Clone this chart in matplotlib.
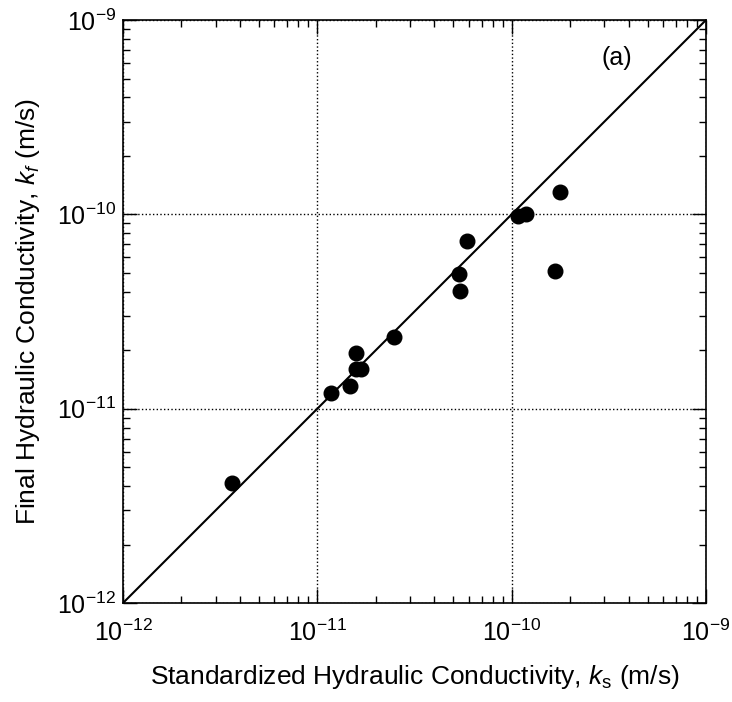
import numpy as np
import matplotlib.pyplot as plt
from matplotlib.ticker import LogLocator, NullFormatter

plt.rcParams['font.family'] = ['Liberation Sans', 'DejaVu Sans']
plt.rcParams['mathtext.fontset'] = 'custom'
plt.rcParams['mathtext.rm'] = 'Liberation Sans'
plt.rcParams['mathtext.it'] = 'Liberation Sans:italic'
plt.rcParams['mathtext.default'] = 'regular'
plt.rcParams['axes.unicode_minus'] = False

# standardized vs final hydraulic conductivity (m/s)
k_s = [3.62e-12, 1.18e-11, 1.48e-11, 1.59e-11, 1.67e-11, 1.58e-11, 2.47e-11,
       5.33e-11, 5.43e-11, 5.90e-11, 1.08e-10, 1.19e-10, 1.78e-10, 1.68e-10]
k_f = [4.17e-12, 1.21e-11, 1.31e-11, 1.60e-11, 1.60e-11, 1.94e-11, 2.33e-11,
       4.91e-11, 4.04e-11, 7.33e-11, 9.8e-11, 1.00e-10, 1.30e-10, 5.11e-11]

lim = [1e-12, 1e-9]

fig = plt.figure(figsize=(7.32, 7.02), dpi=100)
ax = fig.add_axes([0.168, 0.141, 0.7965, 0.8305])

ax.plot(lim, lim, color='black', linewidth=1.5, zorder=2)
ax.plot(k_s, k_f, 'o', color='black', markersize=10.5, zorder=3)

ax.set_xscale('log')
ax.set_yscale('log')
ax.set_xlim(lim)
ax.set_ylim(lim)

for axis in (ax.xaxis, ax.yaxis):
    axis.set_minor_locator(LogLocator(base=10, subs=np.arange(2, 10)))
    axis.set_minor_formatter(NullFormatter())

ax.grid(True, which='major', linestyle=':', color='black', linewidth=1)
ax.tick_params(which='both', direction='in', top=True, right=True,
               labelsize=18)
ax.tick_params(axis='x', pad=12)
ax.tick_params(axis='y', pad=5)
ax.tick_params(which='major', length=10, width=1)
ax.tick_params(which='minor', length=5, width=1)
for s in ax.spines.values():
    s.set_linewidth(1.2)

ax.set_xlabel('Standardized Hydraulic Conductivity, $\\it{k}$$_{\\rm s}$ (m/s)',
              fontsize=19, labelpad=12)
ax.set_ylabel('Final Hydraulic Conductivity, $\\it{k}$$_{\\it f}$ (m/s)',
              fontsize=19, labelpad=11)

ax.text(0.82, 0.935, '(a)', transform=ax.transAxes, fontsize=18,
        ha='left', va='center')

fig.savefig('out.png', dpi=100)
